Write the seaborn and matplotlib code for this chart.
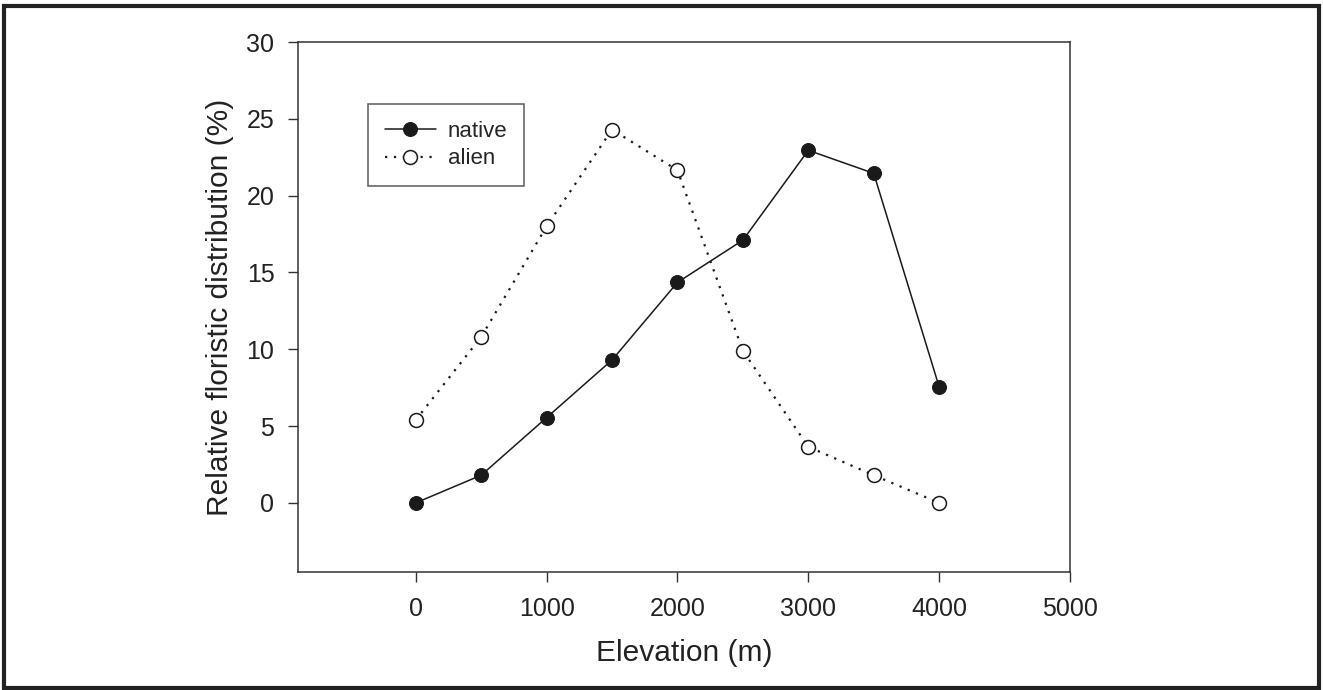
import matplotlib
matplotlib.use("Agg")
import matplotlib.pyplot as plt
import seaborn as sns
import pandas as pd
from matplotlib.patches import Rectangle

sns.set_style("white")
plt.rcParams['font.family'] = ['Liberation Sans', 'DejaVu Sans']

elevation = [0, 500, 1000, 1500, 2000, 2500, 3000, 3500, 4000]
native = [0.0, 1.8, 5.55, 9.3, 14.35, 17.1, 22.95, 21.45, 7.55]
alien = [5.4, 10.8, 18.0, 24.3, 21.65, 9.9, 3.65, 1.8, 0.0]

df = pd.DataFrame({'elevation': elevation, 'native': native, 'alien': alien})

fig = plt.figure(figsize=(13.23, 6.9), dpi=100)
ax = fig.add_axes([298 / 1323, 1 - 572 / 690, (1070 - 298) / 1323, (572 - 42) / 690])

sns.lineplot(data=df, x='elevation', y='native', ax=ax, color='#1a1a1a', lw=1.1,
             marker='o', markersize=10, markerfacecolor='#1a1a1a',
             markeredgecolor='#1a1a1a', label='native')
sns.lineplot(data=df, x='elevation', y='alien', ax=ax, color='#1a1a1a', lw=1.6,
             linestyle=(0, (1, 3)), marker='o', markersize=10,
             markerfacecolor='white', markeredgecolor='#1a1a1a',
             markeredgewidth=1.1, label='alien')

ax.set_xlim(-900, 5000)
ax.set_ylim(-4.5, 30)
ax.set_xticks([0, 1000, 2000, 3000, 4000, 5000])
ax.set_yticks([0, 5, 10, 15, 20, 25, 30])
ax.tick_params(axis='both', which='both', direction='out', length=7, width=1,
               color='#333333', labelsize=18, labelcolor='#222222',
               bottom=True, left=True, top=False, right=False)
ax.tick_params(axis='x', pad=11)
ax.tick_params(axis='y', pad=10)
for sp in ax.spines.values():
    sp.set_color('#333333')
    sp.set_linewidth(1.1)

ax.set_xlabel('Elevation (m)', fontsize=21.5, labelpad=13, color='#222222')
ax.set_ylabel('Relative floristic distribution (%)', fontsize=21.5, labelpad=9,
              color='#222222')

leg = ax.legend(loc='upper left', bbox_to_anchor=(0.0907, 0.883), fontsize=16,
                borderaxespad=0, frameon=True, fancybox=False,
                edgecolor='#333333', handlelength=2.3, handletextpad=0.55,
                borderpad=0.75, labelspacing=0.3)
leg.get_frame().set_linewidth(1.1)

fig.add_artist(Rectangle((0.003, 0.003), 0.994, 0.988, transform=fig.transFigure,
                         fill=False, edgecolor='#222222', linewidth=3))

fig.savefig('out.png', dpi=100)
